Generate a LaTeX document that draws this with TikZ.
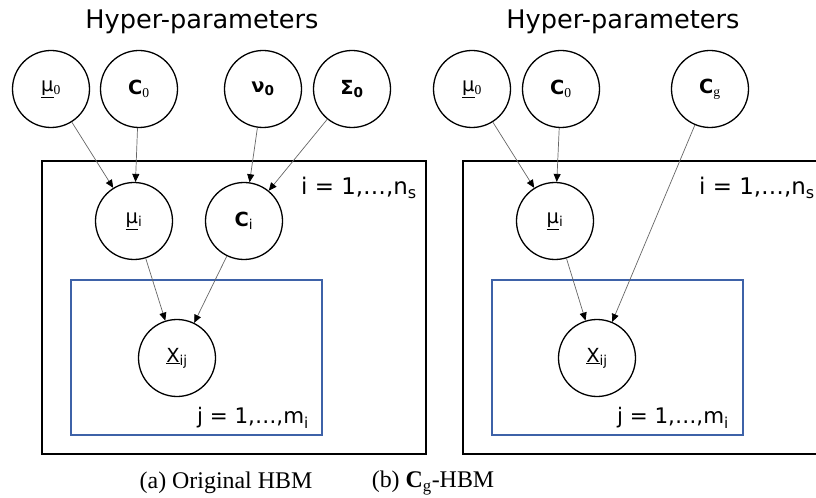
\documentclass[tikz,border=0pt]{standalone}
\usepackage{fontspec}
\setmainfont{Liberation Serif}
\newfontfamily\vsans{DejaVu Sans}
\usetikzlibrary{arrows.meta,positioning}
\definecolor{plateblue}{RGB}{62,98,168}

\newcommand{\ul}[1]{\underline{#1}}
\newcommand{\sub}[1]{\textsubscript{#1}}
\newcommand{\ssub}[1]{\textsubscript{\rmfamily #1}}

\begin{document}
\begin{tikzpicture}[
    x=1bp, y=-1bp,
    var/.style={draw, circle, line width=1.3bp, minimum size=77bp, inner sep=0pt, font=\vsans\fontsize{19.5}{22}\selectfont},
    dep/.style={-{Triangle[length=8bp, width=7bp, color=black]}, draw=black!60, line width=0.7bp},
    plate/.style={draw, line width=1.8bp},
    inner/.style={draw=plateblue, line width=1.4bp},
    idx/.style={font=\vsans\fontsize{23}{26}\selectfont, inner sep=0pt},
    jdx/.style={font=\vsans\fontsize{21.5}{24}\selectfont, inner sep=0pt},
    title/.style={font=\vsans\fontsize{25.7}{30}\selectfont, inner sep=0pt},
    caption/.style={font=\fontsize{24}{28}\selectfont, inner sep=0pt}
]
\useasboundingbox (0,0) rectangle (816,498);

% (a) original HBM
\node[title] (hypa) at (202,22) {Hyper-parameters};
\draw[plate] (42,161) rectangle (426,454);
\draw[inner] (71,280) rectangle (322,435);
\node[var] (mu0a) at (51,89) {\ul{μ}\ssub{0}};
\node[var] (c0a) at (139,89) {\textbf{C}\ssub{0}};
\node[var] (nu0) at (263,89) {\textbf{ν\sub{0}}};
\node[var] (sig0) at (352,89) {\textbf{Σ\sub{0}}};
\node[var] (muia) at (134,221) {\ul{μ}\sub{i}};
\node[var] (cia) at (244,221) {\textbf{C}\sub{i}};
\node[var] (xa) at (177,358) {\ul{X}\sub{ij}};
\node[idx, anchor=east] (ia) at (417,188) {i = 1,…,n\sub{s}};
\node[jdx, anchor=east] (ja) at (309,418) {j = 1,…,m\sub{i}};

\draw[dep] (mu0a) -- (muia);
\draw[dep] (c0a) -- (muia);
\draw[dep] (nu0) -- (cia);
\draw[dep] (sig0) -- (cia);
\draw[dep] (muia) -- (xa);
\draw[dep] (cia) -- (xa);

% (b) Cg-HBM
\node[title] (hypb) at (623,22) {Hyper-parameters};
\draw[plate] (817,161) -- (463,161) -- (463,454) -- (817,454);
\draw[inner] (492,280) rectangle (743,435);
\node[var] (mu0b) at (472,89) {\ul{μ}\ssub{0}};
\node[var] (c0b) at (561,89) {\textbf{C}\ssub{0}};
\node[var] (cg) at (710,89) {\textbf{C}\ssub{g}};
\node[var] (muib) at (555,221) {\ul{μ}\sub{i}};
\node[var] (xb) at (597,358) {\ul{X}\sub{ij}};
\node[idx, anchor=east] (ib) at (815,188) {i = 1,…,n\sub{s}};
\node[jdx, anchor=east] (jb) at (729,418) {j = 1,…,m\sub{i}};

\draw[dep] (mu0b) -- (muib);
\draw[dep] (c0b) -- (muib);
\draw[dep] (cg) -- (xb);
\draw[dep] (muib) -- (xb);

% captions
\node[caption] (capa) at (226,483) {(a) Original HBM};
\node[caption] (capb) at (433,483) {(b) \textbf{C}\textsubscript{g}-HBM};
\end{tikzpicture}
\end{document}
